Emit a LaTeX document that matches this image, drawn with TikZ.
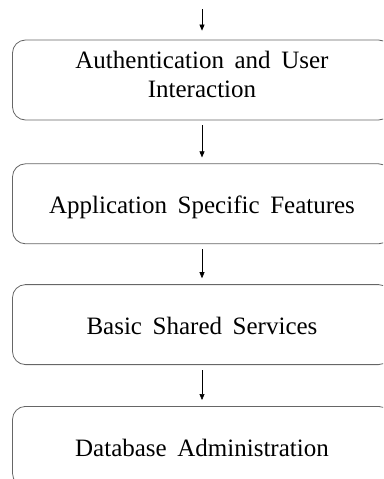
\documentclass[tikz,border=0pt]{standalone}
\usepackage{fontspec}
\setmainfont[WordSpace=1.7]{Liberation Serif}
\usetikzlibrary{positioning}
\usetikzlibrary{arrows.meta}

\tikzset{
 layer/.style={draw=black!60,line width=0.8pt,rounded corners=13pt,
  minimum width=379pt,minimum height=80pt,inner sep=0pt,align=center,
  font=\fontsize{25}{29}\selectfont,text height=20pt,text depth=0pt},
 flow/.style={-{Triangle[length=6pt,width=5pt]},line width=0.6pt,black}
}

\begin{document}
\begin{tikzpicture}[x=1pt,y=-1pt]
 \useasboundingbox (0,0) rectangle (383,479);
 \clip (0,0) rectangle (383,479);
 \coordinate (top) at (202,9);
 \node[layer,text height=34pt] (auth) at (202,80) {Authentication and User\\Interaction};
 \node[layer,below=43pt of auth] (app) {Application Specific Features};
 \node[layer,below=40pt of app] (shared) {Basic Shared Services};
 \node[layer,below=41pt of shared] (db) {Database Administration};
 \draw[flow,shorten >=9pt] (top) -- (auth.north);
 \draw[flow,shorten <=5pt,shorten >=6pt] (auth.south) -- (app.north);
 \draw[flow,shorten <=5pt,shorten >=6pt] (app.south) -- (shared.north);
 \draw[flow,shorten <=5pt,shorten >=6pt] (shared.south) -- (db.north);
\end{tikzpicture}
\end{document}
